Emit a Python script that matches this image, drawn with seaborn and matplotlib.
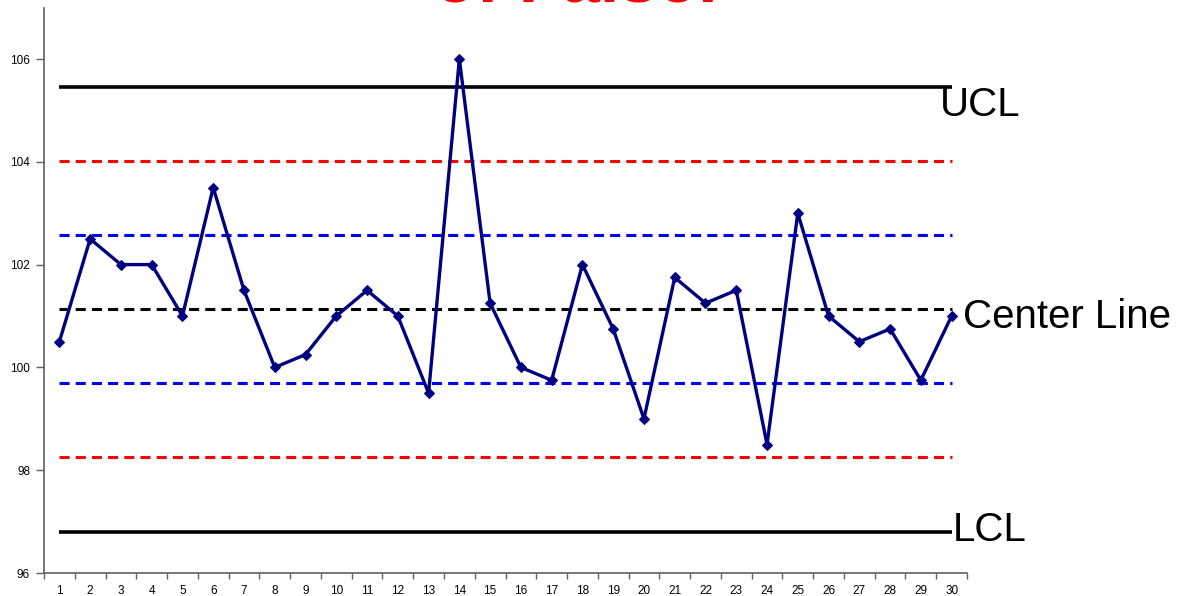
import matplotlib
matplotlib.use("Agg")
import matplotlib.pyplot as plt
import numpy as np
import pandas as pd
import seaborn as sns

# Subgroup measurements
samples = list(range(1, 31))
values = [100.5, 102.5, 102.0, 102.0, 101.0, 103.5, 101.5, 100.0, 100.25, 101.0,
          101.5, 101.0, 99.5, 106.0, 101.25, 100.0, 99.75, 102.0, 100.75, 99.0,
          101.75, 101.25, 101.5, 98.5, 103.0, 101.0, 100.5, 100.75, 99.75, 101.0]

# Control limits and zone boundaries
center_line = 101.13
ucl, lcl = 105.45, 96.80
two_sigma = [104.02, 98.25]
one_sigma = [102.57, 99.69]

y_ticks = [96, 98, 100, 102, 104, 106]

sns.set_theme(style="ticks")
plt.rcParams["font.family"] = ["Liberation Sans", "DejaVu Sans"]

fig = plt.figure(figsize=(11.8, 5.96), dpi=100)
ax = fig.add_axes([44 / 1180, 1 - 573 / 596, (967 - 44) / 1180, (573 - 7.6) / 596])

x0, x1 = samples[0], samples[-1]
dash = (3.3, 2.0)

ax.plot([x0, x1], [ucl, ucl], color="black", lw=2.6, solid_capstyle="butt", zorder=2)
ax.plot([x0, x1], [lcl, lcl], color="black", lw=2.6, solid_capstyle="butt", zorder=2)
for yv in two_sigma:
    ax.plot([x0, x1], [yv, yv], color="#FF0000", lw=2.2, dashes=dash, zorder=2)
for yv in one_sigma:
    ax.plot([x0, x1], [yv, yv], color="#0000FF", lw=2.2, dashes=dash, zorder=2)
ax.plot([x0, x1], [center_line, center_line], color="black", lw=2.2, dashes=dash, zorder=2)

df = pd.DataFrame({"sample": samples, "value": values})
sns.lineplot(data=df, x="sample", y="value", ax=ax, color="#000080", lw=2.4,
             marker="D", markersize=5.5, markeredgecolor="#000080",
             markerfacecolor="#000080", zorder=3)

label_kw = dict(fontsize=29, color="black", va="center", ha="left", clip_on=False)
ax.text(29.62, 105.1, "UCL", **label_kw)
ax.text(30.36, 100.98, "Center Line", **label_kw)
ax.text(30.03, 96.84, "LCL", **label_kw)

ax.set_xlim(0.5, 30.5)
ax.set_ylim(96, 107)
ax.set_yticks(y_ticks)
ax.set_xticks(samples)
ax.set_xticks(np.arange(0.5, 31, 1.0), minor=True)
ax.tick_params(axis="x", which="major", length=0, labelsize=8.5, pad=9, colors="black")
ax.tick_params(axis="x", which="minor", length=4, width=1, color="#606060", direction="out")
ax.tick_params(axis="y", which="major", length=6, width=1, color="#606060", labelsize=8.5,
               labelcolor="black", pad=4)
ax.set_xlabel("")
ax.set_ylabel("")
sns.despine(ax=ax)
for side in ("left", "bottom"):
    ax.spines[side].set_color("#606060")
    ax.spines[side].set_linewidth(1.2)

# Title runs off the top edge; only the lower part of the glyphs stays in frame
fig.text(0.489, 1 - 1.5 / 596, "of False!", color="#FF0000", fontsize=50,
         fontweight="bold", ha="center", va="baseline")

fig.savefig("out.png", dpi=100)
